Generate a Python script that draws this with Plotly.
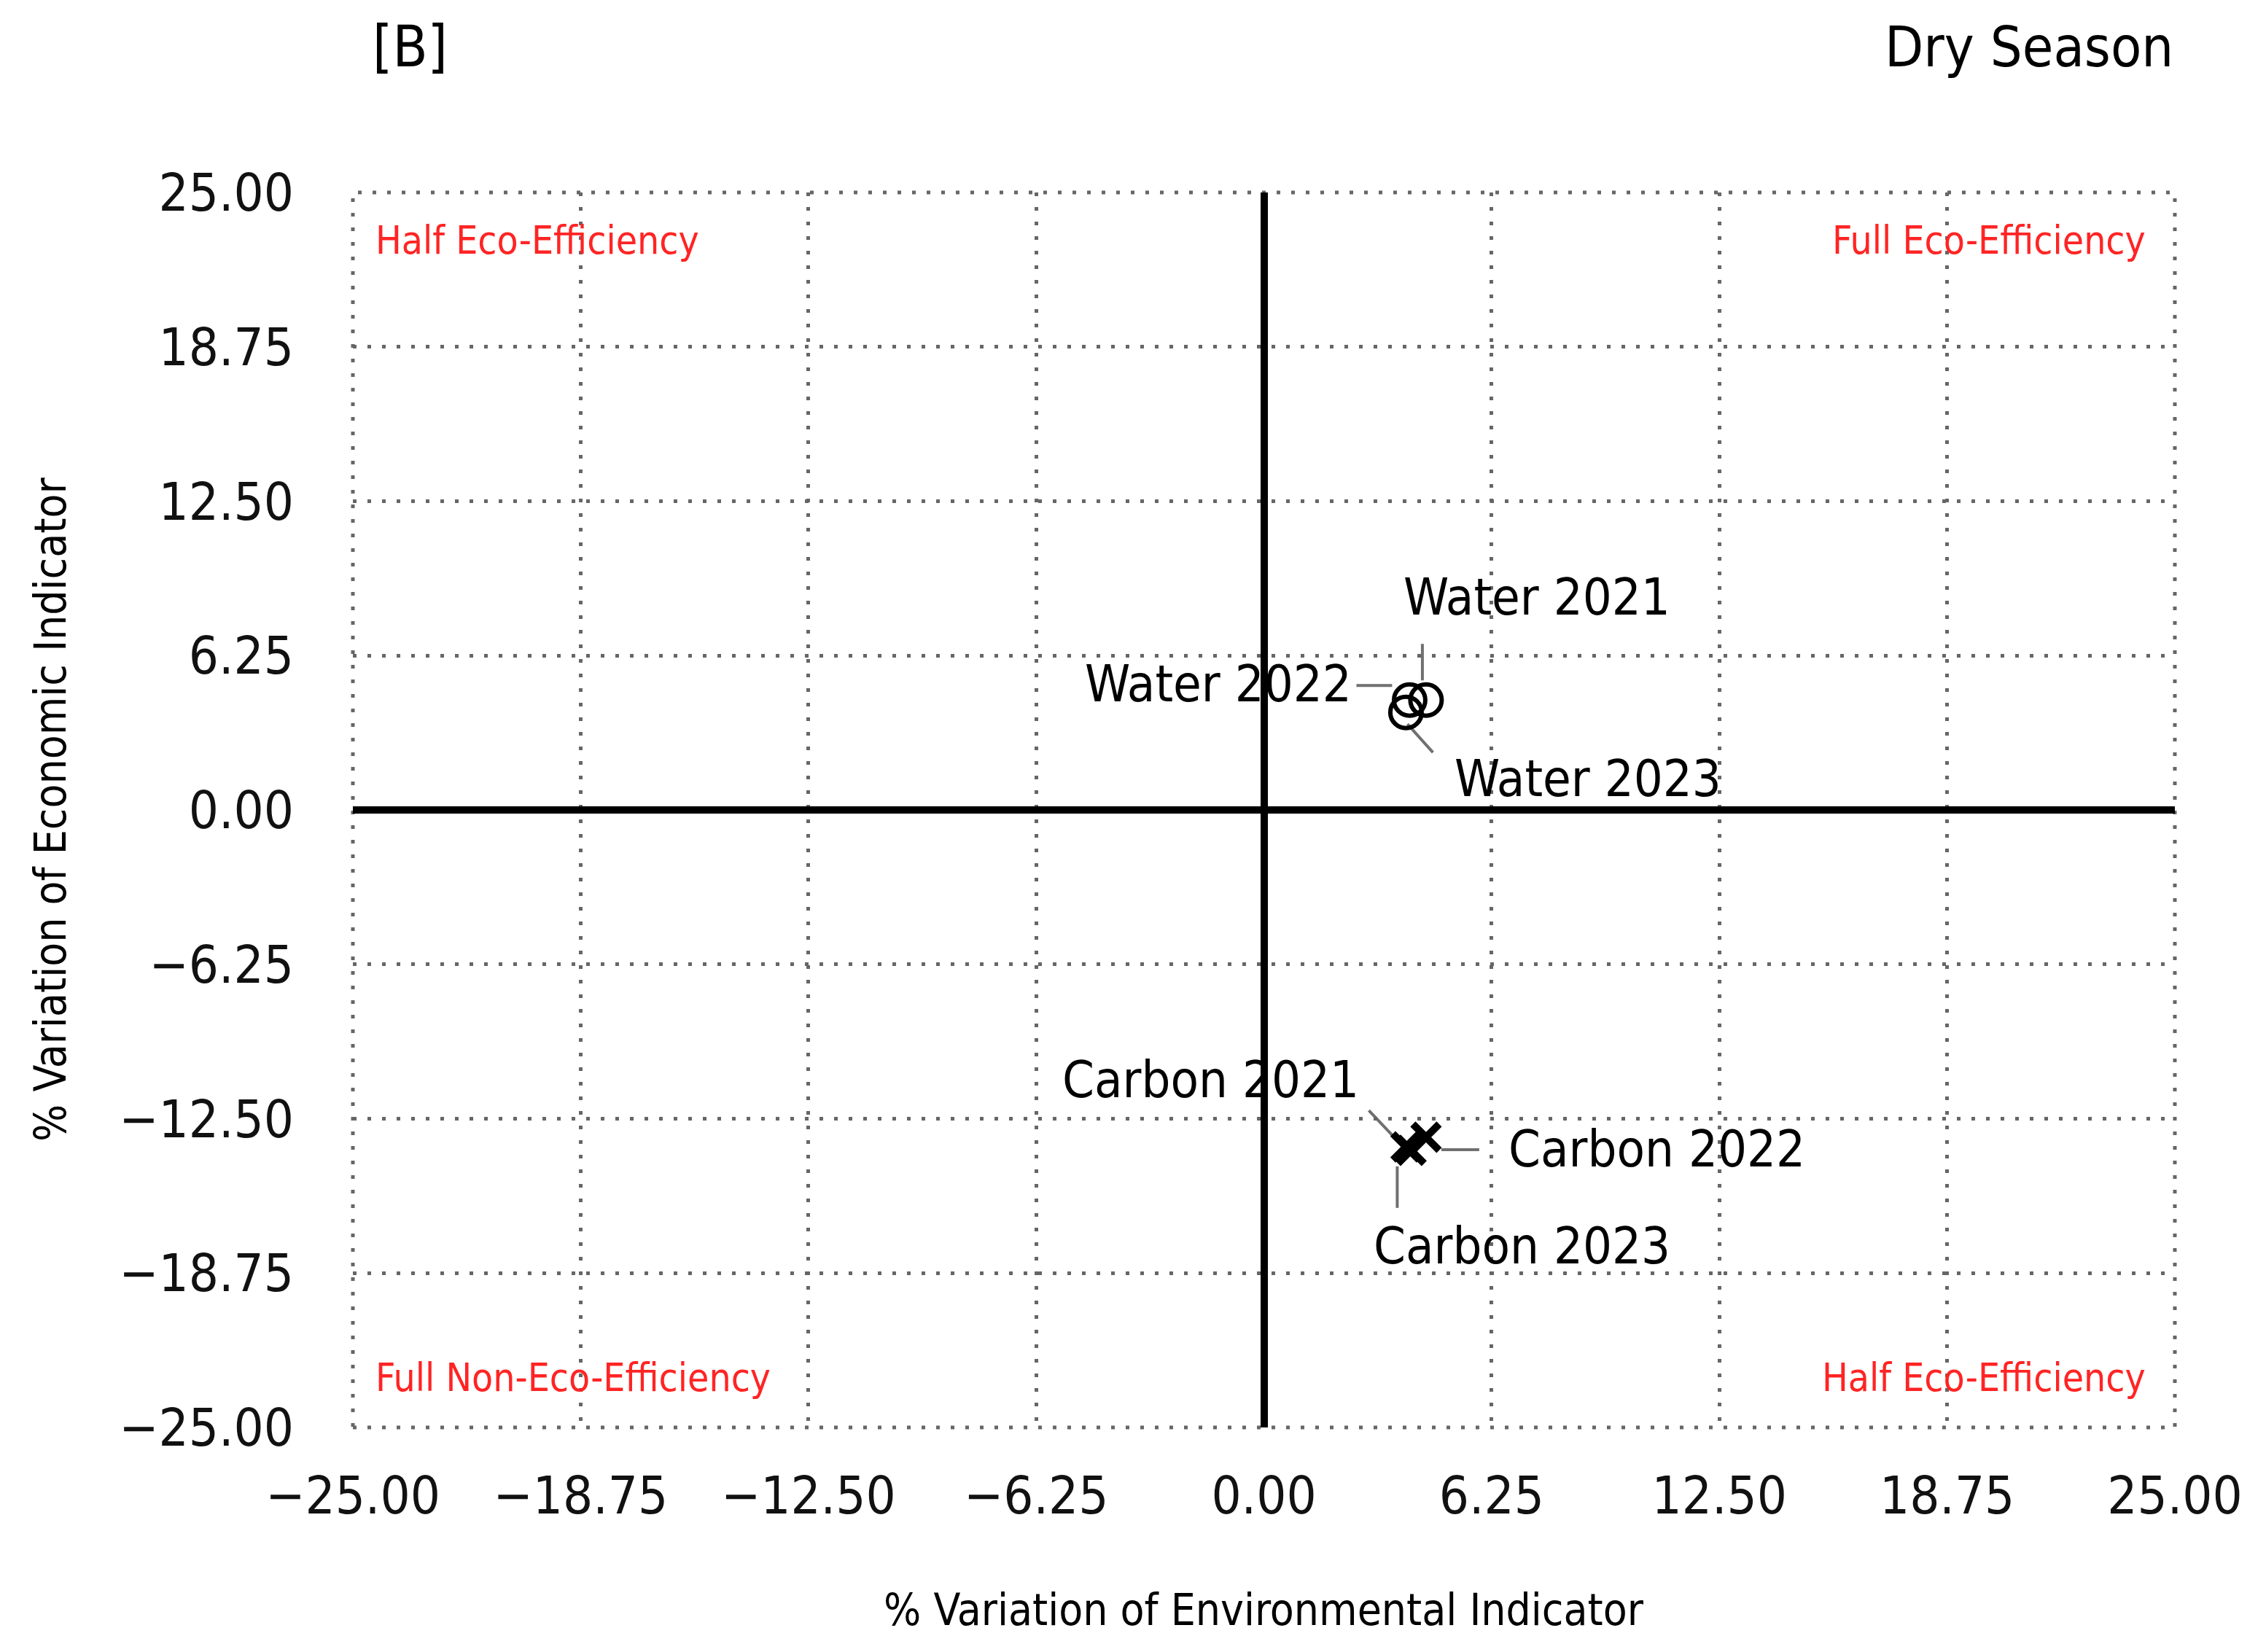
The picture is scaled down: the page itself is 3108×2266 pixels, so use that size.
import plotly.graph_objects as go

# ---------------- data ----------------
water_labels = ["Water 2021", "Water 2022", "Water 2023"]
water_x = [4.45, 4.00, 3.90]
water_y = [4.45, 4.45, 3.95]

carbon_labels = ["Carbon 2021", "Carbon 2022", "Carbon 2023"]
carbon_x = [3.90, 4.45, 4.04]
carbon_y = [-13.64, -13.25, -13.78]

tick_values = [-25.0, -18.75, -12.5, -6.25, 0.0, 6.25, 12.5, 18.75, 25.0]

quadrant_labels = ["Half Eco-Efficiency", "Full Eco-Efficiency",
                   "Full Non-Eco-Efficiency", "Half Eco-Efficiency"]

panel_label = "[B]"
season_label = "Dry Season"
x_title = "% Variation of Environmental Indicator"
y_title = "% Variation of Economic Indicator"

# ---------------- style ----------------
FONT = "DejaVu Sans Condensed, Liberation Sans Narrow, Roboto Condensed, Roboto, sans-serif"
GRID = "#666666"
DOTS = "5px,15px"
RED = "#FF2424"
LEADER = "#707070"

# label placement (pixel offsets from the point; y positive = up)
label_place = {
    "Water 2021": dict(xanchor="left", xshift=-33, yshift=141, seg=(-5, 77, -5, 27)),
    "Water 2022": dict(xanchor="right", xshift=-77, yshift=22, seg=(-73, 20, -24, 20)),
    "Water 2023": dict(xanchor="left", xshift=65, yshift=-91, seg=(2, -16, 37, -55)),
    "Carbon 2021": dict(xanchor="right", xshift=-62, yshift=92, seg=(-51, 50, -16, 13)),
    "Carbon 2022": dict(xanchor="left", xshift=111, yshift=-16, seg=(21, -17, 73, -17)),
    "Carbon 2023": dict(xanchor="left", xshift=-53, yshift=-131, seg=(-19, -22, -19, -79)),
}

fig = go.Figure()

fig.add_trace(go.Scatter(
    x=water_x, y=water_y, mode="markers", name="Water",
    marker=dict(symbol="circle-open", size=43, color="black",
                line=dict(width=6, color="black")),
    showlegend=False, hoverinfo="skip"))

fig.add_trace(go.Scatter(
    x=carbon_x, y=carbon_y, mode="markers", name="Carbon",
    marker=dict(symbol="x-thin", size=36, color="black",
                line=dict(width=10, color="black")),
    showlegend=False, hoverinfo="skip"))

annotations = []
shapes = []

for labels, xs, ys in [(water_labels, water_x, water_y),
                       (carbon_labels, carbon_x, carbon_y)]:
    for lab, xv, yv in zip(labels, xs, ys):
        p = label_place[lab]
        annotations.append(dict(
            x=xv, y=yv, xref="x", yref="y", text=lab, showarrow=False,
            xanchor=p["xanchor"], yanchor="middle",
            xshift=p["xshift"], yshift=p["yshift"],
            font=dict(family=FONT, size=70, color="black")))
        x0, y0, x1, y1 = p["seg"]
        shapes.append(dict(
            type="line", xref="x", yref="y",
            xsizemode="pixel", ysizemode="pixel",
            xanchor=xv, yanchor=yv, x0=x0, y0=y0, x1=x1, y1=y1,
            line=dict(color=LEADER, width=4), layer="below"))

# quadrant labels
quad_pos = [
    dict(x=0, y=1, xanchor="left", xshift=29, yshift=-65),
    dict(x=1, y=1, xanchor="right", xshift=-38, yshift=-65),
    dict(x=0, y=0, xanchor="left", xshift=29, yshift=69),
    dict(x=1, y=0, xanchor="right", xshift=-38, yshift=69),
]
for lab, qp in zip(quadrant_labels, quad_pos):
    annotations.append(dict(
        xref="paper", yref="paper", text=lab, showarrow=False,
        yanchor="middle", font=dict(family=FONT, size=53, color=RED), **qp))

# header texts
annotations.append(dict(xref="paper", yref="paper", x=0, y=1, xanchor="left",
                        yanchor="middle", xshift=25, yshift=200, showarrow=False,
                        text=panel_label, font=dict(family=FONT, size=78, color="black")))
annotations.append(dict(xref="paper", yref="paper", x=1, y=1, xanchor="right",
                        yanchor="middle", xshift=0, yshift=200, showarrow=False,
                        text=season_label, font=dict(family=FONT, size=77, color="black")))

# axis titles
annotations.append(dict(xref="paper", yref="paper", x=0.5, y=0, xanchor="center",
                        yanchor="middle", yshift=-250, showarrow=False,
                        text=x_title, font=dict(family=FONT, size=60, color="black")))
annotations.append(dict(xref="paper", yref="paper", x=0, y=0.5, xanchor="center",
                        yanchor="middle", xshift=-415, showarrow=False, textangle=-90,
                        text=y_title, font=dict(family=FONT, size=60, color="black")))

# dotted frame
shapes.append(dict(type="rect", xref="paper", yref="paper", x0=0, y0=0, x1=1, y1=1,
                   line=dict(color=GRID, width=5, dash=DOTS), layer="below"))

axis_common = dict(
    range=[-25, 25], tickvals=tick_values, tickformat=".2f",
    showgrid=True, gridcolor=GRID, gridwidth=5, griddash=DOTS,
    zeroline=True, zerolinecolor="black", zerolinewidth=10,
    showline=False, ticks="", fixedrange=True,
    tickfont=dict(family=FONT, size=72, color="#111111"),
)

fig.update_layout(
    width=3108, height=2266, autosize=False,
    margin=dict(l=484, r=125, t=264, b=308),
    paper_bgcolor="white", plot_bgcolor="white",
    xaxis=dict(**axis_common, ticklabelstandoff=45),
    yaxis=dict(**axis_common, ticklabelstandoff=80),
    annotations=annotations, shapes=shapes,
    showlegend=False,
)

fig.write_html("out.html")
